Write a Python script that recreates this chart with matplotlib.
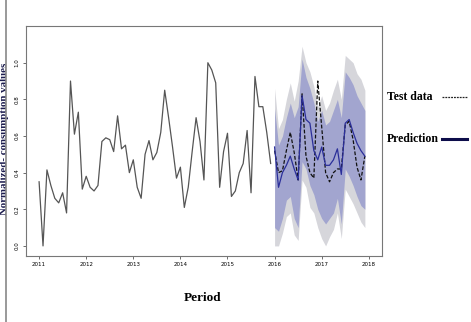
import numpy as np
import matplotlib
matplotlib.use("Agg")
import matplotlib.pyplot as plt
from matplotlib.lines import Line2D

# monthly normalized consumption, Jan 2011 .. Dec 2015 (training)
train_vals = [0.35, 0.00, 0.415, 0.33, 0.26, 0.235, 0.29, 0.18, 0.90, 0.61, 0.73, 0.31,
              0.38, 0.32, 0.30, 0.33, 0.57, 0.59, 0.58, 0.515, 0.71, 0.53, 0.55, 0.40,
              0.47, 0.32, 0.26, 0.50, 0.575, 0.47, 0.51, 0.62, 0.85, 0.70, 0.54, 0.37,
              0.43, 0.21, 0.32, 0.515, 0.70, 0.57, 0.36, 1.00, 0.96, 0.89, 0.32, 0.515,
              0.615, 0.27, 0.30, 0.40, 0.45, 0.63, 0.29, 0.925, 0.76, 0.76, 0.62, 0.45]

# Jan 2016 .. Dec 2017
test_vals = [0.52, 0.40, 0.41, 0.52, 0.62, 0.51, 0.36, 0.83, 0.49, 0.40, 0.37, 0.90,
             0.65, 0.40, 0.35, 0.40, 0.42, 0.42, 0.66, 0.68, 0.58, 0.43, 0.36, 0.49]
pred_vals = [0.54, 0.32, 0.40, 0.44, 0.49, 0.42, 0.36, 0.82, 0.69, 0.67, 0.52, 0.47,
             0.54, 0.44, 0.44, 0.47, 0.53, 0.39, 0.67, 0.69, 0.62, 0.56, 0.52, 0.49]
lo80 = [0.10, 0.08, 0.15, 0.25, 0.27, 0.15, 0.10, 0.46, 0.42, 0.33, 0.28, 0.20,
        0.15, 0.12, 0.15, 0.18, 0.26, 0.12, 0.42, 0.38, 0.33, 0.27, 0.22, 0.20]
hi80 = [0.75, 0.55, 0.60, 0.70, 0.78, 0.70, 0.76, 1.02, 0.92, 0.86, 0.78, 0.68,
        0.74, 0.66, 0.68, 0.74, 0.80, 0.70, 0.95, 0.92, 0.88, 0.82, 0.78, 0.74]
lo95 = [0.00, 0.00, 0.07, 0.16, 0.18, 0.06, 0.03, 0.36, 0.32, 0.21, 0.18, 0.10,
        0.04, 0.00, 0.05, 0.09, 0.18, 0.04, 0.31, 0.27, 0.23, 0.18, 0.13, 0.10]
hi95 = [0.86, 0.64, 0.69, 0.80, 0.89, 0.79, 0.90, 1.09, 1.00, 0.95, 0.87, 0.76,
        0.82, 0.74, 0.78, 0.85, 0.91, 0.80, 1.04, 1.02, 1.00, 0.94, 0.91, 0.85]

yticks = [0.0, 0.2, 0.4, 0.6, 0.8, 1.0]
xticks = [2011, 2012, 2013, 2014, 2015, 2016, 2017, 2018]

train_t = 2011 + np.arange(len(train_vals)) / 12
test_t = 2016 + np.arange(len(test_vals)) / 12

fig = plt.figure(figsize=(4.71, 3.22), dpi=100)
ax = fig.add_axes([0.055, 0.205, 0.756, 0.714])

ax.fill_between(test_t, lo95, hi95, color="#d6d6db", lw=0)
ax.fill_between(test_t, lo80, hi80, color="#a2a5cf", lw=0)
ax.plot(train_t, train_vals, color="#555555", lw=0.9)
ax.plot(test_t, test_vals, color="#111111", lw=0.9, ls=(0, (3, 1.5)))
ax.plot(test_t, pred_vals, color="#2b2f9a", lw=0.9)

ax.set_xlim(2010.72, 2018.28)
ax.set_ylim(-0.055, 1.20)
ax.set_yticks(yticks)
ax.set_yticklabels([f"{v:.1f}" for v in yticks], rotation=90, va="center")
ax.set_xticks(xticks)
ax.set_xticklabels([str(v) for v in xticks])
ax.tick_params(labelsize=4, length=2.5, width=0.6, color="#555555", pad=2)
for s in ax.spines.values():
    s.set_color("#777777")
    s.set_linewidth(0.8)

ax.set_ylabel("Normalized- consumption values", fontsize=7.8, fontweight="bold",
              family="Liberation Serif", color="#1c1c4e")
ax.yaxis.set_label_coords(-0.048, 0.51)
fig.text(0.431, 0.075, "Period", fontsize=9.5, fontweight="bold",
         family="Liberation Serif", ha="center", va="center")

# legend drawn outside on the right
fig.text(0.822, 0.699, "Test data", fontsize=8.5, fontweight="bold",
         family="Liberation Serif", va="center")
fig.text(0.822, 0.568, "Prediction", fontsize=8.5, fontweight="bold",
         family="Liberation Serif", va="center")
fig.add_artist(Line2D([0.938, 0.992], [0.699, 0.699], transform=fig.transFigure,
                      color="#222222", lw=0.9, ls=(0, (1.5, 0.8))))
fig.add_artist(Line2D([0.938, 0.992], [0.568, 0.568], transform=fig.transFigure,
                      color="#0d0d4a", lw=2.2))
# thin border at the left edge of the image
fig.add_artist(Line2D([0.012, 0.012], [0, 1], transform=fig.transFigure,
                      color="#888888", lw=1.2))

fig.savefig("out.png", dpi=100)
